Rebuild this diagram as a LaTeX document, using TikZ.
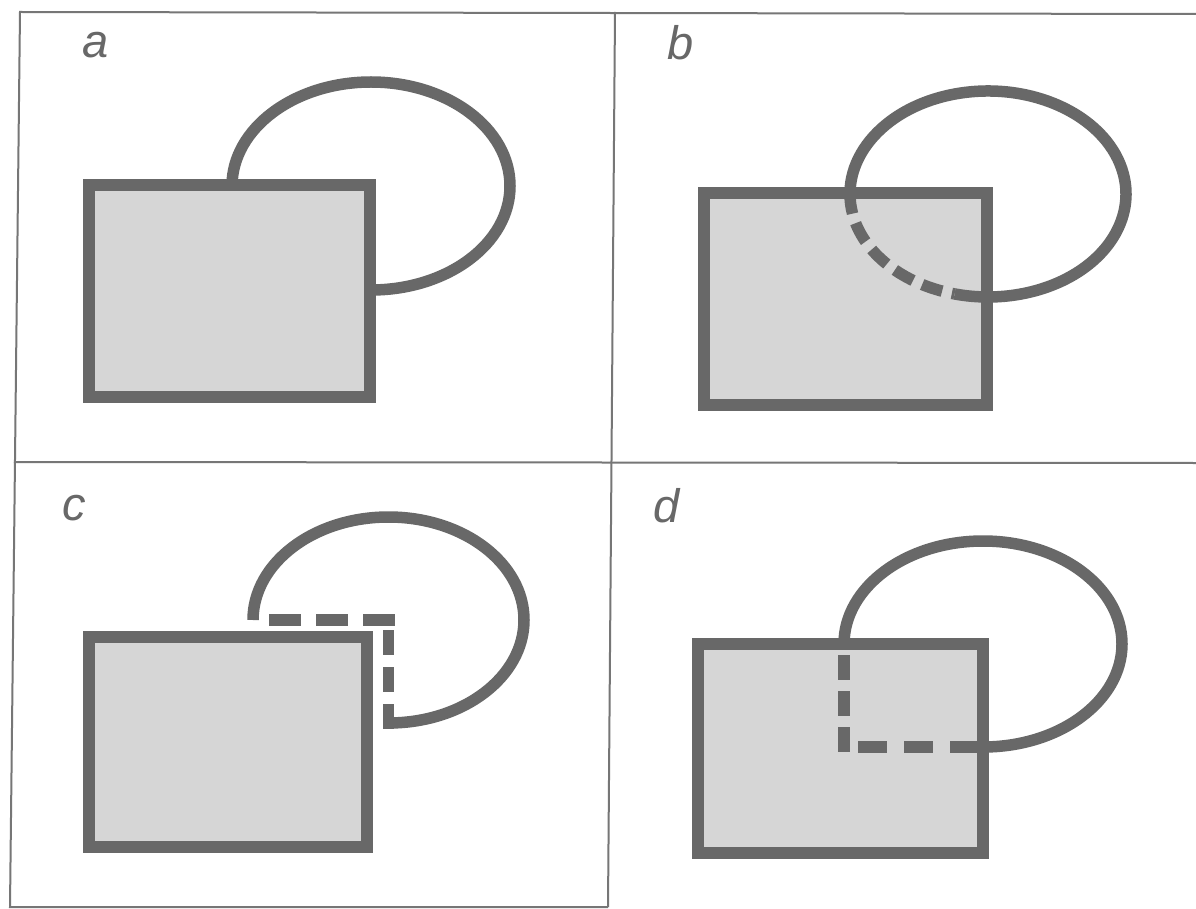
\documentclass[tikz,border=0pt]{standalone}
\usepackage{fontspec}
\setsansfont{Liberation Sans}
\definecolor{inkgray}{RGB}{104,104,104}
\definecolor{framegray}{RGB}{118,118,118}
\definecolor{boxfill}{RGB}{214,214,214}
\begin{document}
\begin{tikzpicture}[x=1pt,y=-1pt,
  frame/.style={draw=framegray, line width=2pt},
  boxshape/.style={draw=inkgray, fill=boxfill, line width=12pt},
  loopline/.style={draw=inkgray, line width=11.5pt},
  hidden/.style={draw=inkgray, line width=11.5pt},
  lbl/.style={text=inkgray, font=\fontsize{47}{52}\selectfont\sffamily\itshape, inner sep=0pt, anchor=base west}]
\useasboundingbox[fill=white] (0,0) rectangle (1196,909);

% frame
\coordinate (tl) at (20,12);
\coordinate (tr) at (1196,14);
\coordinate (bl) at (10,907);
\coordinate (ml) at (14,462);
\coordinate (mr) at (1196,463);
\coordinate (mt) at (615,12);
\coordinate (mb) at (608,907);
\draw[frame] (tr) -- (tl) -- (bl) -- (mb);
\draw[frame] (ml) -- (mr);
\draw[frame] (mt) -- (mb);

% labels
\node[lbl] (la) at (82,58) {a};
\node[lbl] (lb) at (667,60) {b};
\node[lbl] (lc) at (62,520) {c};
\node[lbl] (ld) at (653,522) {d};

% panel a
\draw[boxshape] (89,185) rectangle (370,397);
\coordinate (ca) at (371,186);
\draw[loopline] (ca) ++(180:139 and 104) arc[start angle=180, end angle=450, x radius=139, y radius=104];

% panel b
\draw[boxshape] (704,193) rectangle (987,405);
\coordinate (cb) at (988,194);
\draw[loopline] (cb) ++(169:138 and 103) arc[start angle=169, end angle=464, x radius=138, y radius=103];
\draw[hidden, dash pattern=on 21pt off 10pt, dash phase=21pt] (cb) ++(169:138 and 103) arc[start angle=169, end angle=104, x radius=138, y radius=103];

% panel c
\draw[boxshape] (89,637) rectangle (367,847);
\coordinate (cc) at (388.5,620);
\draw[loopline] (cc) ++(180:135.5 and 103) arc[start angle=180, end angle=450, x radius=135.5, y radius=103];
\coordinate (cch1) at (394.5,620);
\coordinate (cch2) at (265,620);
\coordinate (ccv1) at (388.5,728.5);
\coordinate (ccv2) at (388.5,630);
\draw[hidden, dash pattern=on 32pt off 15pt] (cch1) -- (cch2);
\draw[hidden, dash pattern=on 25pt off 12pt] (ccv1) -- (ccv2);

% panel d
\draw[boxshape] (698,644) rectangle (983,853);
\coordinate (cd) at (983,644);
\draw[loopline] (cd) ++(180:139 and 103) arc[start angle=180, end angle=450, x radius=139, y radius=103];
\coordinate (cdv1) at (844,655);
\coordinate (cdv2) at (844,752.5);
\coordinate (cdh1) at (858,747);
\coordinate (cdh2) at (983,747);
\draw[hidden, dash pattern=on 25pt off 11pt] (cdv1) -- (cdv2);
\draw[hidden, dash pattern=on 29pt off 17pt] (cdh1) -- (cdh2);
\end{tikzpicture}
\end{document}
